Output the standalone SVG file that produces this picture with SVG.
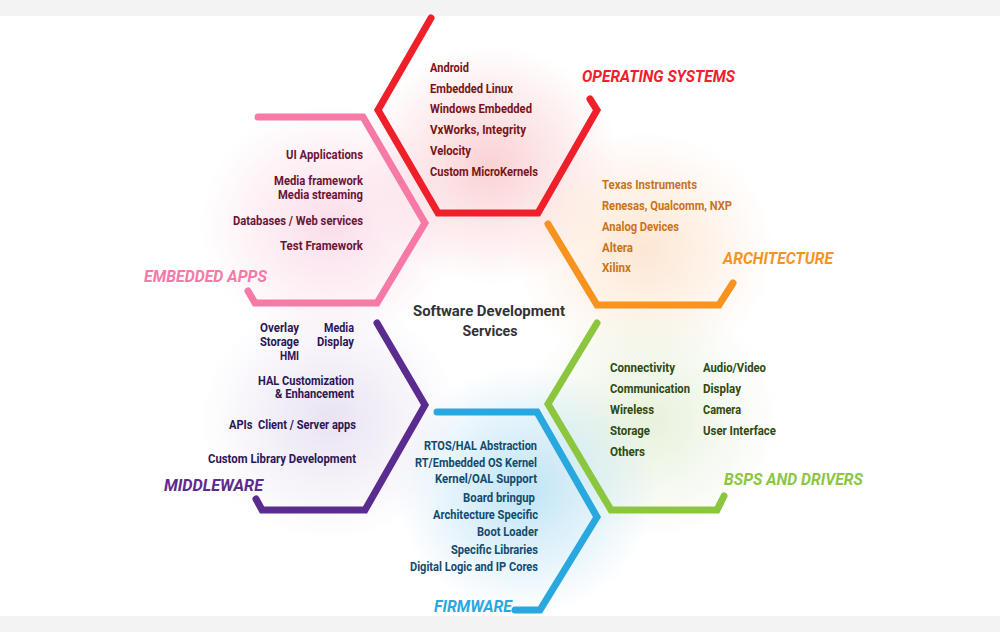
<svg xmlns="http://www.w3.org/2000/svg" width="1000" height="632" viewBox="0 0 1000 632">
<defs>
<style>
.hex{fill:none;stroke-width:7;stroke-linecap:round;stroke-linejoin:miter}
.it{font-family:Roboto,"Liberation Sans",sans-serif;font-weight:bold;font-size:13px}
.tt{font-family:Roboto,"Liberation Sans",sans-serif;font-weight:bold;font-style:italic;font-size:17px}
.r{text-anchor:end}
</style>
<radialGradient id="gRed"><stop offset="0" stop-color="#f8b9bd" stop-opacity="0.65"/><stop offset="1" stop-color="#f8b9bd" stop-opacity="0"/></radialGradient>
<radialGradient id="gOrange"><stop offset="0" stop-color="#fcd9bb" stop-opacity="0.65"/><stop offset="1" stop-color="#fcd9bb" stop-opacity="0"/></radialGradient>
<radialGradient id="gPink"><stop offset="0" stop-color="#f9cfe0" stop-opacity="0.7"/><stop offset="1" stop-color="#f9cfe0" stop-opacity="0"/></radialGradient>
<radialGradient id="gPurple"><stop offset="0" stop-color="#e4dcef" stop-opacity="0.8"/><stop offset="1" stop-color="#e4dcef" stop-opacity="0"/></radialGradient>
<radialGradient id="gGreen"><stop offset="0" stop-color="#e2eed3" stop-opacity="0.8"/><stop offset="1" stop-color="#e2eed3" stop-opacity="0"/></radialGradient>
<radialGradient id="gBlue"><stop offset="0" stop-color="#b4dff4" stop-opacity="0.85"/><stop offset="1" stop-color="#b4dff4" stop-opacity="0"/></radialGradient>
</defs>
<rect x="0" y="0" width="1000" height="632" fill="#ffffff"/>
<rect x="0" y="0" width="1000" height="16" fill="#f3f3f3"/>
<rect x="0" y="616" width="1000" height="16" fill="#f3f3f3"/>
<g id="glows">
<ellipse cx="490" cy="165" rx="130" ry="120" fill="url(#gRed)"/>
<ellipse cx="645" cy="250" rx="130" ry="120" fill="url(#gOrange)"/>
<ellipse cx="330" cy="225" rx="130" ry="120" fill="url(#gPink)"/>
<ellipse cx="330" cy="420" rx="130" ry="120" fill="url(#gPurple)"/>
<ellipse cx="650" cy="420" rx="130" ry="120" fill="url(#gGreen)"/>
<ellipse cx="525" cy="490" rx="130" ry="125" fill="url(#gBlue)"/>
</g>
<g id="connectors">
<polyline class="hex" stroke="#f0202a" points="431,18 378,110 438,213 538,213 597,110 590,99"/>
<polyline class="hex" stroke="#f7931e" points="548,224 597,305 719,305 733,283"/>
<polyline class="hex" stroke="#f679a8" points="258,117 363,117 425,223 377,303 255,303 248,291"/>
<polyline class="hex" stroke="#5b2c8f" points="377,323 425,405 365,510 262,510 256,499"/>
<polyline class="hex" stroke="#8cc63f" points="597,323 548,404 611,510 717,510 724,496"/>
<polyline class="hex" stroke="#29a8e0" points="437,412 537,412 597,517 540,610 515,610"/>
</g>
<g id="center">
<text x="489" y="316" text-anchor="middle" font-family="Roboto,'Liberation Sans',sans-serif" font-weight="bold" font-size="15" fill="#333333" textLength="152" lengthAdjust="spacingAndGlyphs">Software Development</text>
<text x="490" y="336" text-anchor="middle" font-family="Roboto,'Liberation Sans',sans-serif" font-weight="bold" font-size="15" fill="#333333" textLength="55" lengthAdjust="spacingAndGlyphs">Services</text>
</g>
<g id="operating-systems" fill="#7b1416">
<text class="tt" x="582" y="82" fill="#f0202a" textLength="153" lengthAdjust="spacingAndGlyphs">OPERATING SYSTEMS</text>
<text class="it" x="430" y="72" textLength="39" lengthAdjust="spacingAndGlyphs">Android</text>
<text class="it" x="430" y="93" textLength="83" lengthAdjust="spacingAndGlyphs">Embedded Linux</text>
<text class="it" x="430" y="113" textLength="102" lengthAdjust="spacingAndGlyphs">Windows Embedded</text>
<text class="it" x="430" y="134" textLength="96" lengthAdjust="spacingAndGlyphs">VxWorks, Integrity</text>
<text class="it" x="430" y="155" textLength="41" lengthAdjust="spacingAndGlyphs">Velocity</text>
<text class="it" x="430" y="176" textLength="108" lengthAdjust="spacingAndGlyphs">Custom MicroKernels</text>
</g>
<g id="architecture" fill="#c9731c">
<text class="tt" x="723" y="264" fill="#f7931e" textLength="110" lengthAdjust="spacingAndGlyphs">ARCHITECTURE</text>
<text class="it" x="602" y="189" textLength="95" lengthAdjust="spacingAndGlyphs">Texas Instruments</text>
<text class="it" x="602" y="210" textLength="130" lengthAdjust="spacingAndGlyphs">Renesas, Qualcomm, NXP</text>
<text class="it" x="602" y="231" textLength="77" lengthAdjust="spacingAndGlyphs">Analog Devices</text>
<text class="it" x="602" y="252" textLength="31" lengthAdjust="spacingAndGlyphs">Altera</text>
<text class="it" x="602" y="272" textLength="29" lengthAdjust="spacingAndGlyphs">Xilinx</text>
</g>
<g id="embedded-apps" fill="#6a1538">
<text class="tt" x="144" y="282" fill="#f679a8" textLength="123" lengthAdjust="spacingAndGlyphs">EMBEDDED APPS</text>
<text class="it r" x="363" y="159" textLength="77" lengthAdjust="spacingAndGlyphs">UI Applications</text>
<text class="it r" x="363" y="185" textLength="89" lengthAdjust="spacingAndGlyphs">Media framework</text>
<text class="it r" x="363" y="199" textLength="85" lengthAdjust="spacingAndGlyphs">Media streaming</text>
<text class="it r" x="363" y="225" textLength="130" lengthAdjust="spacingAndGlyphs">Databases / Web services</text>
<text class="it r" x="363" y="250" textLength="83" lengthAdjust="spacingAndGlyphs">Test Framework</text>
</g>
<g id="middleware" fill="#2c1656">
<text class="tt" x="164" y="491" fill="#5b2c8f" textLength="99" lengthAdjust="spacingAndGlyphs">MIDDLEWARE</text>
<text class="it r" x="299" y="332" textLength="39" lengthAdjust="spacingAndGlyphs">Overlay</text>
<text class="it r" x="299" y="346" textLength="39" lengthAdjust="spacingAndGlyphs">Storage</text>
<text class="it r" x="299" y="360" textLength="19" lengthAdjust="spacingAndGlyphs">HMI</text>
<text class="it r" x="354" y="332" textLength="30" lengthAdjust="spacingAndGlyphs">Media</text>
<text class="it r" x="354" y="346" textLength="37" lengthAdjust="spacingAndGlyphs">Display</text>
<text class="it r" x="354" y="385" textLength="96" lengthAdjust="spacingAndGlyphs">HAL Customization</text>
<text class="it r" x="354" y="398" textLength="79" lengthAdjust="spacingAndGlyphs">&amp; Enhancement</text>
<text class="it r" x="356" y="429" textLength="127" lengthAdjust="spacingAndGlyphs" xml:space="preserve">APIs  Client / Server apps</text>
<text class="it r" x="356" y="463" textLength="148" lengthAdjust="spacingAndGlyphs">Custom Library Development</text>
</g>
<g id="bsps-and-drivers" fill="#2f4a0f">
<text class="tt" x="724" y="485" fill="#8cc63f" textLength="139" lengthAdjust="spacingAndGlyphs">BSPS AND DRIVERS</text>
<text class="it" x="610" y="372" textLength="65" lengthAdjust="spacingAndGlyphs">Connectivity</text>
<text class="it" x="610" y="393" textLength="80" lengthAdjust="spacingAndGlyphs">Communication</text>
<text class="it" x="610" y="414" textLength="44" lengthAdjust="spacingAndGlyphs">Wireless</text>
<text class="it" x="610" y="435" textLength="40" lengthAdjust="spacingAndGlyphs">Storage</text>
<text class="it" x="610" y="456" textLength="35" lengthAdjust="spacingAndGlyphs">Others</text>
<text class="it" x="703" y="372" textLength="63" lengthAdjust="spacingAndGlyphs">Audio/Video</text>
<text class="it" x="703" y="393" textLength="38" lengthAdjust="spacingAndGlyphs">Display</text>
<text class="it" x="703" y="414" textLength="38" lengthAdjust="spacingAndGlyphs">Camera</text>
<text class="it" x="703" y="435" textLength="73" lengthAdjust="spacingAndGlyphs">User Interface</text>
</g>
<g id="firmware" fill="#134a6e">
<text class="tt" x="434" y="612" fill="#29a8e0" textLength="78" lengthAdjust="spacingAndGlyphs">FIRMWARE</text>
<text class="it r" x="537" y="450" textLength="113" lengthAdjust="spacingAndGlyphs">RTOS/HAL Abstraction</text>
<text class="it r" x="537" y="467" textLength="122" lengthAdjust="spacingAndGlyphs">RT/Embedded OS Kernel</text>
<text class="it r" x="537" y="483" textLength="102" lengthAdjust="spacingAndGlyphs">Kernel/OAL Support</text>
<text class="it r" x="535" y="502" textLength="72" lengthAdjust="spacingAndGlyphs">Board bringup</text>
<text class="it r" x="538" y="519" textLength="105" lengthAdjust="spacingAndGlyphs">Architecture Specific</text>
<text class="it r" x="538" y="536" textLength="61" lengthAdjust="spacingAndGlyphs">Boot Loader</text>
<text class="it r" x="538" y="554" textLength="87" lengthAdjust="spacingAndGlyphs">Specific Libraries</text>
<text class="it r" x="538" y="571" textLength="128" lengthAdjust="spacingAndGlyphs">Digital Logic and IP Cores</text>
</g>
</svg>
